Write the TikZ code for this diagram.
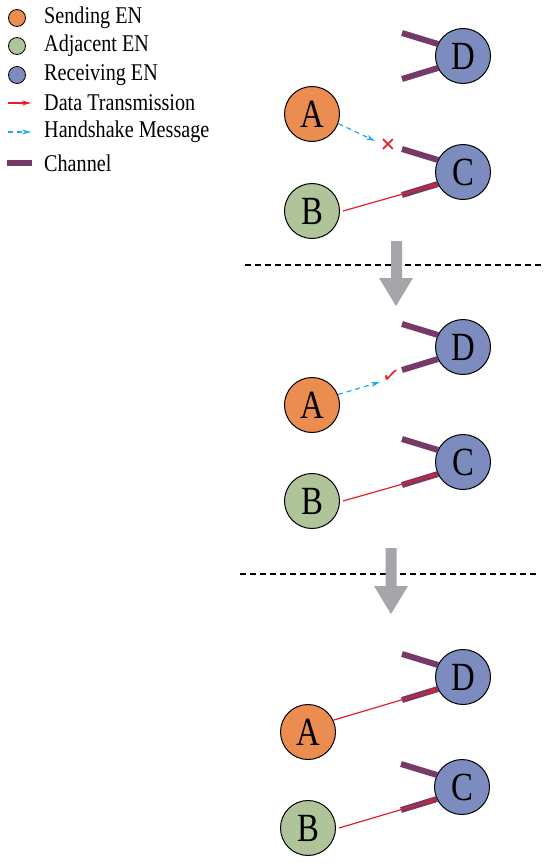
\documentclass[tikz,border=0pt]{standalone}
\usepackage{fontspec}
\setmainfont{Liberation Serif}
\newfontfamily\narrowserif[FakeStretch=0.82]{Liberation Serif}
\newfontfamily\legendserif[FakeStretch=0.84]{Liberation Serif}
\newfontfamily\symfont{DejaVu Sans}
\usetikzlibrary{arrows.meta}
\definecolor{sendfill}{RGB}{235, 140, 80}
\definecolor{adjfill}{RGB}{175, 196, 152}
\definecolor{recvfill}{RGB}{125, 140, 190}
\definecolor{chancolor}{RGB}{118, 58, 104}
\definecolor{datared}{RGB}{230, 30, 40}
\definecolor{shakeblue}{RGB}{30, 170, 230}
\definecolor{arrowgray}{RGB}{165, 166, 170}

\tikzset{
    en/.style={circle, draw=black, line width=1pt, minimum size=55pt,
               inner sep=0pt, font=\narrowserif\fontsize{40}{40}\selectfont},
    sending/.style={en, fill=sendfill},
    adjacent/.style={en, fill=adjfill},
    receiving/.style={en, fill=recvfill},
    legdot/.style={circle, draw=black, line width=0.8pt, minimum size=17pt, inner sep=0pt},
    legtext/.style={anchor=west, inner sep=0pt,
                    font=\legendserif\fontsize{24}{24}\selectfont},
    channel/.style={chancolor, line width=6pt},
    datatx/.style={datared, line width=1.2pt, -{Stealth[length=9pt, width=5pt]}},
    shake/.style={shakeblue, line width=1.2pt, dash pattern=on 5pt off 4pt,
                  -{Stealth[length=9pt, width=5pt]}},
    divider/.style={line width=1.3pt, dash pattern=on 6pt off 4pt},
    stepgray/.style={fill=arrowgray}
}

\begin{document}
\begin{tikzpicture}[x=1pt, y=-1pt]
    \useasboundingbox (0, 0) rectangle (550, 864);

    % legend
    \node[legdot, fill=sendfill] (lg-send) at (17, 18) {};
    \node[legtext] at (44, 18) {Sending EN};
    \node[legdot, fill=adjfill] (lg-adj) at (17, 46) {};
    \node[legtext] at (44, 46) {Adjacent EN};
    \node[legdot, fill=recvfill] (lg-recv) at (17, 75) {};
    \node[legtext] at (44, 75) {Receiving EN};
    \coordinate (lg-data-a) at (8, 103);
    \coordinate (lg-data-b) at (31, 103);
    \draw[datatx] (lg-data-a) -- (lg-data-b);
    \node[legtext] at (44, 103) {Data Transmission};
    \coordinate (lg-hs-a) at (8, 132);
    \coordinate (lg-hs-b) at (31, 132);
    \draw[shake] (lg-hs-a) -- (lg-hs-b);
    \node[legtext] at (44, 132) {Handshake Message};
    \coordinate (lg-ch-a) at (7, 163);
    \coordinate (lg-ch-b) at (32, 163);
    \draw[channel] (lg-ch-a) -- (lg-ch-b);
    \node[legtext] at (44, 163) {Channel};

    % panel 1: handshake refused
    \node[receiving] (D1) at (463, 56) {D};
    \node[sending] (A1) at (312, 114) {A};
    \node[receiving] (C1) at (463, 172) {C};
    \node[adjacent] (B1) at (312, 211) {B};

    % panel 2: handshake accepted
    \node[receiving] (D2) at (463, 347) {D};
    \node[sending] (A2) at (312, 405) {A};
    \node[receiving] (C2) at (463, 462) {C};
    \node[adjacent] (B2) at (312, 501) {B};

    % panel 3: both transmitting
    \node[receiving] (D3) at (463, 677) {D};
    \node[sending] (A3) at (308, 732) {A};
    \node[receiving] (C3) at (462, 787) {C};
    \node[adjacent] (B3) at (308, 828) {B};

    % two channels on every receiving EN
    \foreach \r in {D1, C1, D2, C2, D3, C3} {
        \draw[channel] ([shift={(-61, -23)}]\r.center)
            -- ([shift={(-25, -12)}]\r.center);
        \draw[channel] ([shift={(-61, 23)}]\r.center)
            -- coordinate[pos=1] (\r-in) ([shift={(-25, 12)}]\r.center);
    }

    % data transmissions
    \draw[datatx] ([xshift=3pt]B1.east) -- (C1-in);
    \draw[datatx] ([xshift=3pt]B2.east) -- (C2-in);
    \draw[datatx] (A3.25) -- (D3-in);
    \draw[datatx] ([xshift=3pt]B3.east) -- (C3-in);

    % handshakes
    \coordinate (hs1) at (375, 141);
    \draw[shake] (A1.-20) -- (hs1);
    \node[text=datared, font=\bfseries\fontsize{27}{27}\selectfont,
          inner sep=0pt] (no1) at (388, 146) {×};
    \coordinate (hs2) at (380, 382);
    \draw[shake] (A2.22) -- (hs2);
    \node[text=datared, font=\symfont\bfseries\fontsize{21}{21}\selectfont,
          inner sep=0pt, rotate=-8] (ok2) at (391, 376) {✓};

    % dividers
    \coordinate (cut1-a) at (245, 265);
    \coordinate (cut1-b) at (543, 265);
    \draw[divider] (cut1-a) -- (cut1-b);
    \coordinate (cut2-a) at (240, 574);
    \coordinate (cut2-b) at (537, 574);
    \draw[divider] (cut2-a) -- (cut2-b);

    % step arrows
    \fill[stepgray] (391, 241) -- (402, 241) -- (402, 278) -- (413, 278)
        -- (396, 306) -- (379, 278) -- (391, 278) -- cycle;
    \fill[stepgray] (385.5, 548) -- (396.5, 548) -- (396.5, 586) -- (408, 586)
        -- (391, 614) -- (374, 586) -- (385.5, 586) -- cycle;
\end{tikzpicture}
\end{document}
